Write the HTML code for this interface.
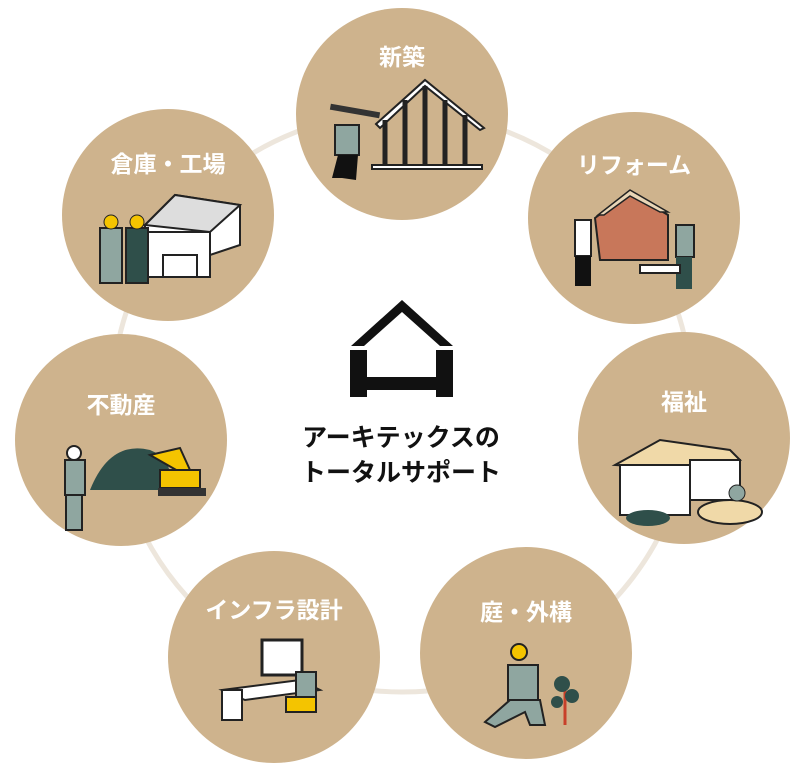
<!DOCTYPE html>
<html><head><meta charset="utf-8"><style>
html,body{margin:0;padding:0;background:#fff;}
body{width:800px;height:775px;overflow:hidden;}
text{font-family:"Liberation Sans","Noto Sans CJK JP",sans-serif;font-weight:bold;}
</style></head><body>
<svg width="800" height="775" viewBox="0 0 800 775" xmlns="http://www.w3.org/2000/svg">
<circle cx="402" cy="402" r="290" fill="none" stroke="#ede6dc" stroke-width="5"/>
<g fill="#ceb38d">
<circle cx="402" cy="114" r="106"/>
<circle cx="634" cy="218" r="106"/>
<circle cx="684" cy="438" r="106"/>
<circle cx="526" cy="653" r="106"/>
<circle cx="274" cy="657" r="106"/>
<circle cx="121" cy="440" r="106"/>
<circle cx="168" cy="215" r="106"/>
</g>
<g fill="#fff" font-size="23" text-anchor="middle">
<text x="402" y="65">新築</text>
<text x="634" y="173">リフォーム</text>
<text x="684" y="410">福祉</text>
<text x="526" y="620">庭・外構</text>
<text x="274" y="618">インフラ設計</text>
<text x="121" y="413">不動産</text>
<text x="168" y="172">倉庫・工場</text>
</g>
<g stroke="#222" stroke-width="2" fill="#fff">
<polygon points="376,124 425,80 484,128 480,130 425,86 380,128"/>
<rect x="372" y="165" width="110" height="4"/>
<line x1="385" y1="120" x2="385" y2="165" stroke-width="5"/>
<line x1="405" y1="100" x2="405" y2="165" stroke-width="5"/>
<line x1="425" y1="86" x2="425" y2="165" stroke-width="5"/>
<line x1="445" y1="100" x2="445" y2="165" stroke-width="5"/>
<line x1="465" y1="115" x2="465" y2="165" stroke-width="5"/>
</g>
<rect x="335" y="125" width="24" height="30" fill="#8fa6a0" stroke="#222" stroke-width="2"/>
<polygon points="338,155 358,155 356,180 342,178 332,178" fill="#111"/>
<rect x="330" y="108" width="50" height="6" fill="#333" transform="rotate(10 355 111)"/>
<polygon points="595,218 630,192 668,215 668,260 600,260" fill="#c8775a" stroke="#222" stroke-width="2"/>
<polygon points="598,215 630,190 668,212 660,212 630,196 604,215" fill="#e9d6b7" stroke="#222" stroke-width="1.5"/>
<rect x="575" y="220" width="16" height="36" fill="#fff" stroke="#222" stroke-width="2"/>
<rect x="575" y="256" width="16" height="30" fill="#111"/>
<rect x="676" y="225" width="18" height="32" fill="#8fa6a0" stroke="#222" stroke-width="2"/>
<rect x="676" y="257" width="16" height="32" fill="#2f4f4a"/>
<rect x="640" y="265" width="40" height="8" fill="#fff" stroke="#222" stroke-width="2"/>
<polygon points="615,465 660,440 730,450 740,460 690,470" fill="#f0d9a8" stroke="#222" stroke-width="2"/>
<rect x="620" y="465" width="70" height="50" fill="#fff" stroke="#222" stroke-width="2"/>
<rect x="690" y="460" width="50" height="40" fill="#fff" stroke="#222" stroke-width="2"/>
<ellipse cx="730" cy="512" rx="32" ry="12" fill="#f0d9a8" stroke="#222" stroke-width="2"/>
<ellipse cx="648" cy="518" rx="22" ry="8" fill="#2f4f4a"/>
<circle cx="737" cy="493" r="8" fill="#8fa6a0" stroke="#222"/>
<circle cx="519" cy="652" r="8" fill="#f4c400" stroke="#222" stroke-width="2"/>
<rect x="508" y="665" width="30" height="35" fill="#8fa6a0" stroke="#222" stroke-width="2"/>
<polygon points="485,722 510,700 540,700 545,725 530,725 525,712 495,727" fill="#8fa6a0" stroke="#222" stroke-width="2"/>
<line x1="565" y1="725" x2="565" y2="680" stroke="#c8402a" stroke-width="3"/>
<circle cx="562" cy="684" r="8" fill="#2f4f4a"/><circle cx="572" cy="696" r="7" fill="#2f4f4a"/><circle cx="557" cy="702" r="6" fill="#2f4f4a"/>
<polygon points="222,690 300,680 320,690 245,700" fill="#fff" stroke="#222" stroke-width="2"/>
<rect x="222" y="690" width="20" height="30" fill="#fff" stroke="#222" stroke-width="2"/>
<rect x="262" y="640" width="40" height="35" fill="#fff" stroke="#222" stroke-width="3"/>
<rect x="296" y="672" width="20" height="25" fill="#8fa6a0" stroke="#222" stroke-width="2"/>
<rect x="286" y="697" width="30" height="15" fill="#f4c400" stroke="#222" stroke-width="2"/>
<path d="M90,490 Q110,440 150,450 Q175,460 170,490 Z" fill="#2f4f4a"/>
<polygon points="150,455 180,448 190,470 185,475" fill="#f4c400" stroke="#222" stroke-width="2"/>
<rect x="160" y="470" width="40" height="18" fill="#f4c400" stroke="#222" stroke-width="2"/>
<rect x="158" y="488" width="48" height="8" fill="#333"/>
<rect x="65" y="460" width="20" height="35" fill="#8fa6a0" stroke="#222" stroke-width="2"/>
<rect x="66" y="495" width="16" height="35" fill="#8fa6a0" stroke="#222" stroke-width="2"/>
<circle cx="74" cy="453" r="7" fill="#fff" stroke="#222" stroke-width="2"/>
<polygon points="145,225 175,195 240,205 240,245 210,255 145,255" fill="#fff" stroke="#222" stroke-width="2"/>
<polygon points="145,225 175,195 240,205 210,232" fill="#ddd" stroke="#222" stroke-width="2"/>
<rect x="145" y="232" width="65" height="45" fill="#fff" stroke="#222" stroke-width="2"/>
<rect x="163" y="255" width="34" height="22" fill="#fff" stroke="#222" stroke-width="2"/>
<rect x="100" y="228" width="22" height="55" fill="#8fa6a0" stroke="#222" stroke-width="2"/>
<rect x="126" y="228" width="22" height="55" fill="#2f4f4a" stroke="#222" stroke-width="2"/>
<circle cx="111" cy="222" r="7" fill="#f4c400" stroke="#222"/><circle cx="137" cy="222" r="7" fill="#f4c400" stroke="#222"/>
<polygon points="402,300 453,346 440,346 402,312 364,346 351,346" fill="#111"/>
<rect x="350" y="350" width="17" height="47" fill="#111"/>
<rect x="436" y="350" width="17" height="47" fill="#111"/>
<rect x="350" y="377" width="103" height="13" fill="#111"/>
<g fill="#111" font-size="25" text-anchor="middle">
<text x="401" y="446">アーキテックスの</text>
<text x="401" y="481">トータルサポート</text>
</g>
</svg>
</body></html>
